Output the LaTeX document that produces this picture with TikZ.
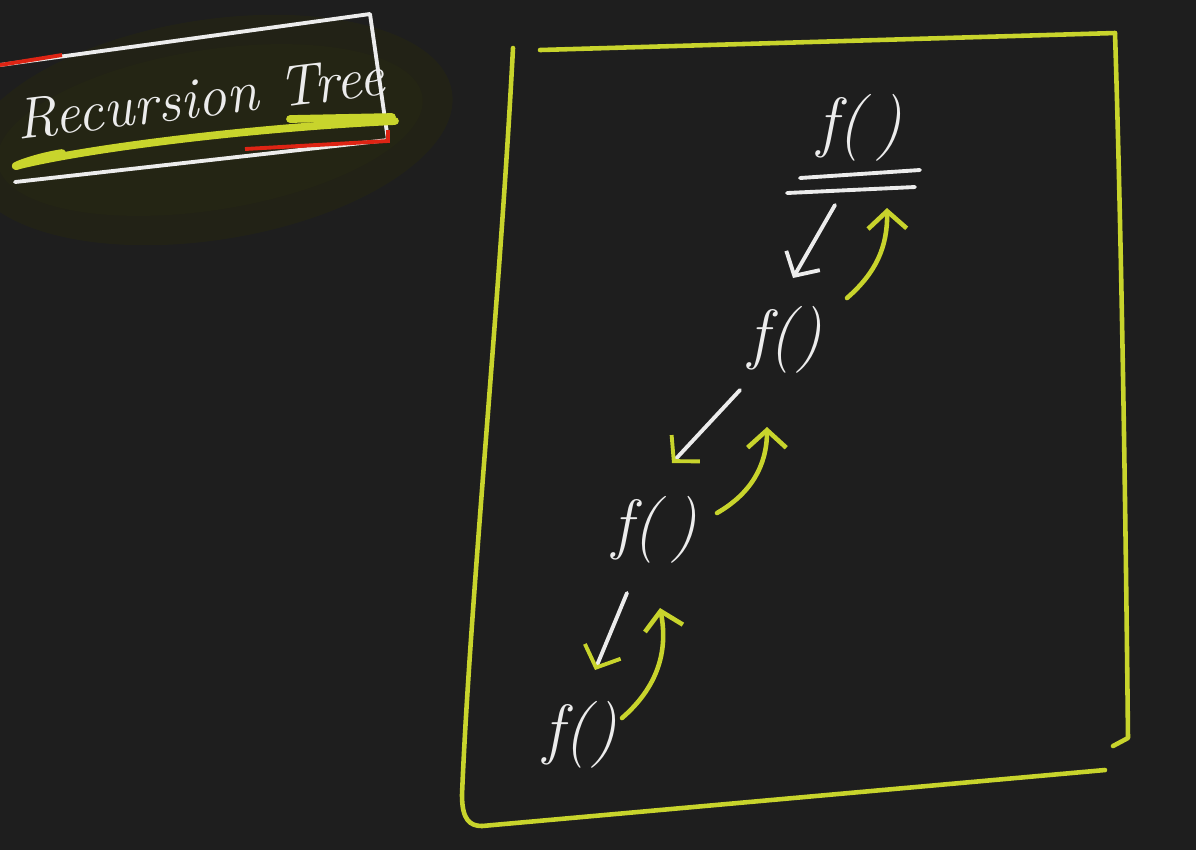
\documentclass[tikz,border=0pt]{standalone}
\usetikzlibrary{arrows.meta}
\definecolor{board}{RGB}{30,30,30}
\definecolor{chalk}{RGB}{236,236,236}
\definecolor{hl}{RGB}{200,212,44}
\definecolor{redpen}{RGB}{222,36,20}
\definecolor{glow}{RGB}{36,37,20}
\begin{document}
\begin{tikzpicture}[x=0.01cm,y=-0.01cm,
  call/.style={text=chalk,font=\fontsize{19}{19}\selectfont\itshape,inner sep=2pt},
  chalkpen/.style={draw=chalk,line width=1.1pt,line cap=round,line join=round},
  hlpen/.style={draw=hl,line width=1.3pt,line cap=round,line join=round},
  down/.style={chalkpen,-{Straight Barb[length=5pt,width=11pt]}},
  downhl/.style={chalkpen,-{Straight Barb[length=5pt,width=11pt,color=hl]}},
  back/.style={hlpen,-{Straight Barb[length=5pt,width=11pt]}}]
\fill[board] (0,0) rectangle (1196,850);
\useasboundingbox (0,0) rectangle (1196,850);

% title
\fill[glow,opacity=0.7,rotate around={9:(210,130)}] (210,130) ellipse [x radius=245, y radius=110];
\fill[glow,rotate around={9:(210,130)}] (210,130) ellipse [x radius=215, y radius=80];
\node[text=chalk,font=\fontsize{16.5}{16.5}\selectfont\itshape,rotate=7] (ttl) at (200,98) {Recursion Tree};
\path[chalkpen] (0,65) -- (370,14) -- (388,140) -- (15,182);
\path[draw=redpen,line width=1.1pt] (0,65) -- (62,55);
\path[draw=redpen,line width=1.1pt] (245,149) -- (388,141) -- (388,130);
\path[hlpen,line width=2.2pt] (395,121) .. controls (250,128) and (90,148) .. (20,165)
  .. controls (5,170) and (30,158) .. (62,153);
\path[hlpen,line width=2.2pt] (290,119) -- (392,117);

% frame
\path[hlpen] (540,50) -- (1115,33);
\path[hlpen] (1115,33) .. controls (1122,250) and (1126,550) .. (1128,738) -- (1113,746);
\path[hlpen] (1105,770) -- (482,826);
\path[hlpen] (513,48) .. controls (500,300) and (470,600) .. (462,795) .. controls (462,820) and (470,826) .. (482,826);

% calls
\node[call] (fa) at (860,128) {f(\,)};
\node[call] (fb) at (785,340) {f()};
\node[call] (fc) at (655,530) {f(\,)};
\node[call] (fd) at (580,735) {f()};
\path[chalkpen] ([shift={(-60,50)}]fa.center) -- ([shift={(60,42)}]fa.center);
\path[chalkpen] ([shift={(-73,65)}]fa.center) -- ([shift={(55,59)}]fa.center);

\path[down] ([shift={(-25,77)}]fa.center) -- ([shift={(8,-62)}]fb.center);
\path[back] ([shift={(62,-42)}]fb.center) to[bend right=25] ([shift={(27,80)}]fa.center);

\path[downhl] ([shift={(-45,50)}]fb.center) -- ([shift={(17,-67)}]fc.center);
\path[back] ([shift={(62,-17)}]fc.center) to[bend right=30] ([shift={(-18,87)}]fb.center);

\path[downhl] ([shift={(-28,63)}]fc.center) -- ([shift={(15,-65)}]fd.center);
\path[back] ([shift={(42,-17)}]fd.center) to[bend right=30] ([shift={(5,78)}]fc.center);
\end{tikzpicture}
\end{document}
